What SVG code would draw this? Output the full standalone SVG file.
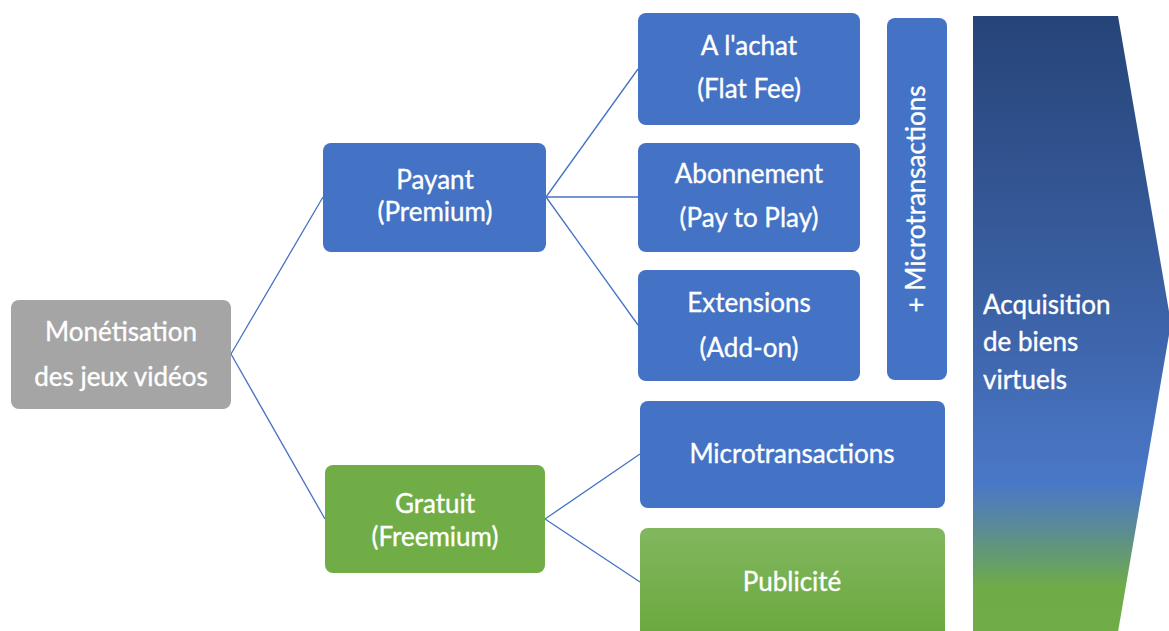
<svg xmlns="http://www.w3.org/2000/svg" width="1169" height="631" viewBox="0 0 1169 631">
  <defs>
    <linearGradient id="arrowGrad" x1="0" y1="16" x2="0" y2="631" gradientUnits="userSpaceOnUse">
      <stop offset="0" stop-color="#264478"/>
      <stop offset="0.5" stop-color="#3d63a8"/>
      <stop offset="0.76" stop-color="#4a78c8"/>
      <stop offset="0.83" stop-color="#5a8a98"/>
      <stop offset="0.93" stop-color="#6fac48"/>
      <stop offset="1" stop-color="#70ad47"/>
    </linearGradient>
    <linearGradient id="pubGrad" x1="0" y1="0" x2="0" y2="1">
      <stop offset="0" stop-color="#82b75f"/>
      <stop offset="1" stop-color="#68a83d"/>
    </linearGradient>
  </defs>
  <style>
    .txt { font-family: Lato, "Open Sans", "Liberation Sans", sans-serif; font-size: 26px; fill: #ffffff; stroke: #ffffff; stroke-width: 0.35; text-anchor: middle; }
    .blue { fill: #4472c4; }
    .green { fill: #70ad47; }
    .grey { fill: #a5a5a5; }
    .conn { stroke: #4472c4; stroke-width: 1.3; fill: none; }
  </style>

  <g id="connectors">
    <line class="conn" x1="231" y1="354" x2="323" y2="197"/>
    <line class="conn" x1="231" y1="354" x2="325" y2="519"/>
    <line class="conn" x1="546" y1="197" x2="638" y2="69"/>
    <line class="conn" x1="546" y1="197" x2="638" y2="197"/>
    <line class="conn" x1="546" y1="197" x2="638" y2="325"/>
    <line class="conn" x1="545" y1="519" x2="640" y2="454"/>
    <line class="conn" x1="545" y1="519" x2="640" y2="582"/>
  </g>

  <g id="arrow">
    <polygon points="973,16 1118,16 1171,323 1118,632 973,632" fill="url(#arrowGrad)"/>
    <text class="txt" style="text-anchor:start" x="983" y="314">Acquisition</text>
    <text class="txt" style="text-anchor:start" x="983" y="351">de biens</text>
    <text class="txt" style="text-anchor:start" x="983" y="389">virtuels</text>
  </g>

  <g id="root">
    <rect class="grey" x="11" y="300" width="220" height="109" rx="8"/>
    <text class="txt" x="121" y="341">Monétisation</text>
    <text class="txt" x="121" y="386">des jeux vidéos</text>
  </g>

  <g id="payant">
    <rect class="blue" x="323" y="143" width="223" height="109" rx="8"/>
    <text class="txt" x="435" y="189">Payant</text>
    <text class="txt" x="435" y="221">(Premium)</text>
  </g>

  <g id="gratuit">
    <rect class="green" x="325" y="465" width="220" height="108" rx="8"/>
    <text class="txt" x="435" y="513">Gratuit</text>
    <text class="txt" x="435" y="546">(Freemium)</text>
  </g>

  <g id="achat">
    <rect class="blue" x="638" y="13" width="222" height="112" rx="8"/>
    <text class="txt" x="749" y="55">A l'achat</text>
    <text class="txt" x="749" y="98">(Flat Fee)</text>
  </g>

  <g id="abonnement">
    <rect class="blue" x="638" y="143" width="222" height="109" rx="8"/>
    <text class="txt" x="749" y="183">Abonnement</text>
    <text class="txt" x="749" y="227">(Pay to Play)</text>
  </g>

  <g id="extensions">
    <rect class="blue" x="638" y="270" width="222" height="111" rx="8"/>
    <text class="txt" x="749" y="312">Extensions</text>
    <text class="txt" x="749" y="357">(Add-on)</text>
  </g>

  <g id="plus-micro">
    <rect class="blue" x="887" y="18" width="60" height="362" rx="8"/>
    <text class="txt" transform="translate(925,199) rotate(-90)" x="0" y="0">+ Microtransactions</text>
  </g>

  <g id="microtransactions">
    <rect class="blue" x="640" y="401" width="305" height="107" rx="8"/>
    <text class="txt" x="792" y="463">Microtransactions</text>
  </g>

  <g id="publicite">
    <rect x="640" y="528" width="305" height="112" rx="8" fill="url(#pubGrad)"/>
    <text class="txt" x="792" y="591">Publicité</text>
  </g>
</svg>
